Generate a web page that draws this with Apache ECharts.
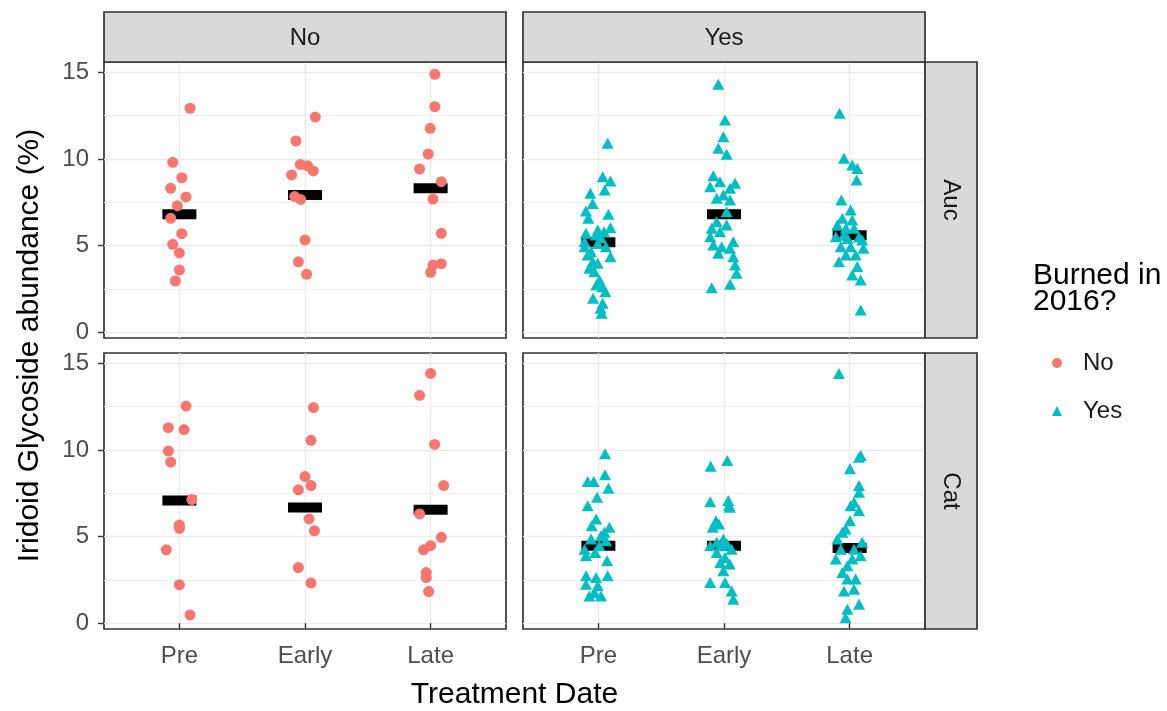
<!DOCTYPE html>
<html>
<head>
<meta charset="utf-8">
<script src="https://cdn.jsdelivr.net/npm/echarts@6/dist/echarts.min.js"></script>
<style>
html,body{margin:0;padding:0;background:#fff;}
#chart{width:1167px;height:711px;}
</style>
</head>
<body>
<div id="chart"></div>
<script>
// ---------- data ----------
const categories = ['Pre', 'Early', 'Late'];
const columnLabels = ['No', 'Yes'];
const rowLabels = ['Auc', 'Cat'];
const yTicks = [0, 5, 10, 15];
const yMinorTicks = [2.5, 7.5, 12.5];
const xTicks = [1, 2, 3];

// Auc, not burned
const aucNoPre = [12.93, 9.81, 8.92, 8.31, 7.81, 7.31, 6.58, 5.69, 5.08, 4.58, 3.59, 2.96];
const aucNoPreJit = [0.085, -0.053, 0.019, -0.069, 0.053, -0.016, -0.069, 0.019, -0.053, 0, 0, -0.032];
const aucNoEarly = [12.42, 11.04, 9.69, 9.61, 9.31, 9.08, 7.83, 7.67, 5.33, 4.07, 3.35];
const aucNoEarlyJit = [0.082, -0.072, -0.037, 0.021, 0.066, -0.107, -0.082, -0.035, 0, -0.053, 0.013];
const aucNoLate = [14.89, 13.02, 11.77, 10.29, 9.42, 8.69, 7.69, 5.71, 3.96, 3.88, 3.46];
const aucNoLateJit = [0.034, 0.034, -0.003, -0.019, -0.088, 0.085, 0.019, 0.085, 0.085, 0.019, 0];

// Auc, burned
const aucYesPre = [10.91, 8.98, 8.73, 8.21, 8.02, 7.44, 7.0, 6.81, 6.58, 6.04, 5.90, 5.71, 5.46, 5.80, 5.61, 5.23, 5.13, 4.94, 4.94, 4.65, 4.46, 4.36, 4.07, 3.98, 3.69, 3.50, 3.02, 2.73, 2.63, 2.34, 1.96, 1.67, 1.38, 1.10];
const aucYesPreJit = [0.074, 0.034, 0.096, 0.05, -0.064, -0.045, -0.099, 0.08, -0.08, 0.096, -0.005, -0.099, 0.021, 0.045, -0.02, -0.11, -0.005, -0.11, 0.06, -0.058, -0.085, 0.096, -0.045, -0.005, -0.072, -0.032, 0.008, -0.016, 0.034, 0.056, -0.042, 0.034, 0.018, 0.026];
const aucYesEarly = [14.31, 12.25, 11.29, 10.62, 10.27, 9.04, 8.69, 8.60, 8.40, 8.31, 7.92, 7.73, 7.63, 6.96, 6.38, 6.19, 6.00, 5.80, 5.52, 5.23, 5.04, 4.94, 4.85, 4.56, 4.36, 3.88, 3.40, 2.77, 2.57];
const aucYesEarlyJit = [-0.045, 0.008, -0.005, -0.045, 0.021, -0.085, -0.032, 0.088, -0.11, 0.048, -0.005, -0.058, 0.048, 0.021, -0.058, 0.021, -0.098, -0.032, -0.11, 0.074, -0.085, -0.018, 0.048, -0.045, 0.074, 0.088, 0.1, 0.048, -0.098];
const aucYesLate = [12.64, 10.04, 9.65, 9.46, 8.79, 7.63, 7.06, 6.58, 6.48, 6.19, 6.00, 6.00, 5.61, 5.52, 5.50, 5.42, 5.33, 4.94, 4.94, 4.85, 4.46, 4.46, 4.07, 3.79, 3.31, 3.02, 1.29];
const aucYesLateJit = [-0.08, -0.045, 0.021, 0.061, 0.056, -0.066, 0.008, -0.058, 0.021, -0.098, -0.03, 0.035, -0.045, -0.11, 0.075, -0.016, 0.1, -0.07, 0.008, 0.11, 0.048, -0.03, -0.085, 0.061, 0.021, 0.088, 0.088];

// Cat, not burned
const catNoPre = [12.54, 11.29, 11.18, 9.94, 9.30, 7.14, 5.67, 5.48, 4.24, 2.22, 0.48];
const catNoPreJit = [0.053, -0.088, 0.037, -0.088, -0.069, 0.099, 0, 0, -0.104, 0, 0.085];
const catNoEarly = [12.45, 10.56, 8.47, 7.95, 7.70, 6.02, 5.34, 3.22, 2.32];
const catNoEarlyJit = [0.067, 0.048, 0, 0.048, -0.053, 0.032, 0.075, -0.053, 0.048];
const catNoLate = [14.42, 13.16, 10.32, 7.95, 6.31, 4.96, 4.48, 4.24, 2.93, 2.64, 1.83];
const catNoLateJit = [0, -0.088, 0.032, 0.104, -0.088, 0.085, 0, -0.056, -0.035, -0.035, -0.016];

// Cat, burned
const catYesPre = [9.79, 8.57, 8.18, 8.18, 7.79, 7.27, 6.79, 6.02, 5.63, 5.54, 5.25, 5.05, 4.86, 4.77, 4.48, 4.28, 4.09, 3.90, 3.61, 2.74, 2.74, 2.64, 2.26, 2.16, 1.77, 1.58, 1.58];
const catYesPreJit = [0.053, 0.053, -0.085, -0.037, 0.08, -0.01, -0.085, -0.018, -0.053, 0.088, 0.048, 0.021, -0.058, 0.061, 0.008, -0.11, -0.026, -0.098, 0.069, 0.074, -0.098, -0.018, -0.098, -0.005, -0.032, -0.072, 0.021];
const catYesEarly = [9.40, 9.07, 7.08, 7.02, 6.80, 6.69, 5.92, 5.73, 5.54, 4.86, 4.67, 4.57, 4.48, 4.48, 4.28, 4.09, 3.80, 3.51, 3.42, 3.03, 2.35, 2.35, 1.87, 1.39];
const catYesEarlyJit = [0.026, -0.106, 0.034, -0.11, 0.04, 0.045, -0.064, -0.04, -0.09, -0.005, -0.058, 0.024, -0.11, -0.018, 0.061, -0.058, 0.008, -0.03, 0.045, -0.005, -0.11, 0.008, 0.061, 0.074];
const catYesLate = [14.42, 9.69, 9.59, 8.92, 7.95, 7.56, 6.98, 6.79, 6.50, 5.92, 5.44, 5.25, 4.86, 4.67, 4.28, 4.28, 3.90, 3.71, 3.71, 3.32, 2.93, 2.55, 2.55, 1.97, 1.87, 1.10, 0.81, 0.32];
const catYesLateJit = [-0.085, 0.088, 0.075, 0.003, 0.075, 0.075, 0.035, 0.008, 0.075, 0.003, -0.032, -0.058, -0.098, 0.1, 0.035, -0.07, 0.088, -0.11, 0.021, -0.018, -0.058, -0.018, 0.048, 0.035, -0.045, 0.075, -0.018, -0.032];

// means (black bars) per category
const meansAucNo = [6.81, 7.92, 8.31];
const meansAucYes = [5.19, 6.81, 5.60];
const meansCatNo = [7.08, 6.68, 6.56];
const meansCatYes = [4.48, 4.48, 4.34];

// ---------- layout / style ----------
const FONT = '"Liberation Sans", Arial, sans-serif';
const colLeft = [104, 523];
const panelW = 402;
const rowTop = [62, 353];
const panelH = 276;
const stripSize = 50;
const yMin = -0.33, yMax = 15.6;
const colors = ['#F8766D', '#00BFC4'];
const symbols = ['circle', 'triangle'];
const symbolSizes = [11, [12, 11]];
const tickFont = 24, titleFont = 30;

const panels = [
  { r: 0, c: 0, groups: [[aucNoPre, aucNoPreJit], [aucNoEarly, aucNoEarlyJit], [aucNoLate, aucNoLateJit]], means: meansAucNo },
  { r: 0, c: 1, groups: [[aucYesPre, aucYesPreJit], [aucYesEarly, aucYesEarlyJit], [aucYesLate, aucYesLateJit]], means: meansAucYes },
  { r: 1, c: 0, groups: [[catNoPre, catNoPreJit], [catNoEarly, catNoEarlyJit], [catNoLate, catNoLateJit]], means: meansCatNo },
  { r: 1, c: 1, groups: [[catYesPre, catYesPreJit], [catYesEarly, catYesEarlyJit], [catYesLate, catYesLateJit]], means: meansCatYes }
];

const grid = [], xAxis = [], yAxis = [], series = [];
panels.forEach((p, gi) => {
  grid.push({
    left: colLeft[p.c], top: rowTop[p.r], width: panelW, height: panelH,
    show: true, backgroundColor: '#ffffff', borderColor: '#333333', borderWidth: 1.7
  });
  xAxis.push({
    gridIndex: gi, type: 'value', min: 0.4, max: 3.6,
    axisLine: { show: false },
    axisTick: { show: p.r === 1, customValues: xTicks, length: 6, lineStyle: { color: '#333333', width: 1.4 } },
    axisLabel: {
      show: p.r === 1, customValues: xTicks, margin: 15,
      formatter: v => categories[Math.round(v) - 1],
      color: '#4D4D4D', fontSize: tickFont, fontFamily: FONT
    },
    splitLine: { show: true, lineStyle: { color: '#EBEBEB', width: 1.4 } }
  });
  const yi = yAxis.length;
  yAxis.push({
    gridIndex: gi, type: 'value', min: yMin, max: yMax, position: 'left',
    axisLine: { show: false },
    axisTick: { show: p.c === 0, customValues: yTicks, length: 6, lineStyle: { color: '#333333', width: 1.4 } },
    axisLabel: { show: p.c === 0, customValues: yTicks, margin: 15, color: '#4D4D4D', fontSize: tickFont, fontFamily: FONT },
    splitLine: { show: true, lineStyle: { color: '#EBEBEB', width: 1.4 } }
  });
  yAxis.push({
    gridIndex: gi, type: 'value', min: yMin, max: yMax, position: 'left',
    axisLine: { show: false },
    axisTick: { show: false, customValues: yMinorTicks },
    axisLabel: { show: false, customValues: yMinorTicks },
    splitLine: { show: true, lineStyle: { color: '#EFEFEF', width: 1 } }
  });
  // mean bars
  series.push({
    type: 'scatter', xAxisIndex: gi, yAxisIndex: yi, silent: true,
    symbol: 'rect', symbolSize: [34, 10], z: 2,
    itemStyle: { color: '#000000', opacity: 1 },
    data: p.means.map((m, i) => [i + 1, m])
  });
  // points
  const data = [];
  p.groups.forEach((g, i) => {
    g[0].forEach((v, j) => data.push([i + 1 + g[1][j], v]));
  });
  series.push({
    type: 'scatter', name: columnLabels[p.c], xAxisIndex: gi, yAxisIndex: yi, z: 3,
    symbol: symbols[p.c], symbolSize: symbolSizes[p.c],
    itemStyle: { color: colors[p.c], opacity: 1 },
    data: data
  });
});

// strips and titles
const graphic = [];
columnLabels.forEach((lab, c) => {
  graphic.push({
    type: 'rect', shape: { x: colLeft[c], y: rowTop[0] - stripSize, width: panelW, height: stripSize },
    style: { fill: '#D9D9D9', stroke: '#333333', lineWidth: 1.7 }, z: 10
  });
  graphic.push({
    type: 'text', x: colLeft[c] + panelW / 2, y: rowTop[0] - stripSize / 2 + 1, z: 11,
    style: { text: lab, textAlign: 'center', textVerticalAlign: 'middle', fontSize: tickFont, fontFamily: FONT, fill: '#1A1A1A' }
  });
});
rowLabels.forEach((lab, r) => {
  const sx = colLeft[1] + panelW;
  graphic.push({
    type: 'rect', shape: { x: sx, y: rowTop[r], width: stripSize + 2, height: panelH },
    style: { fill: '#D9D9D9', stroke: '#333333', lineWidth: 1.7 }, z: 10
  });
  graphic.push({
    type: 'text', x: sx + (stripSize + 2) / 2, y: rowTop[r] + panelH / 2, rotation: -Math.PI / 2, z: 11,
    style: { text: lab, textAlign: 'center', textVerticalAlign: 'middle', fontSize: tickFont, fontFamily: FONT, fill: '#1A1A1A' }
  });
});
graphic.push({
  type: 'text', x: (colLeft[0] + colLeft[1] + panelW) / 2, y: 695, z: 11,
  style: { text: 'Treatment Date', textAlign: 'center', textVerticalAlign: 'middle', fontSize: titleFont, fontFamily: FONT, fill: '#000000' }
});
graphic.push({
  type: 'text', x: 30, y: (rowTop[0] + rowTop[1] + panelH) / 2, rotation: Math.PI / 2, z: 11,
  style: { text: 'Iridoid Glycoside abundance (%)', textAlign: 'center', textVerticalAlign: 'middle', fontSize: titleFont, fontFamily: FONT, fill: '#000000' }
});

const chart = echarts.init(document.getElementById('chart'), null, { renderer: 'canvas' });
chart.setOption({
  backgroundColor: '#ffffff',
  animation: false,
  title: {
    text: 'Burned in\n2016?', left: 1028, top: 258,
    textStyle: { fontSize: titleFont, lineHeight: 26, fontWeight: 'normal', color: '#000000', fontFamily: FONT }
  },
  legend: {
    orient: 'vertical', left: 1047, top: 346, itemGap: 24,
    itemWidth: 10, itemHeight: 10,
    data: [{ name: 'No', icon: 'circle' }, { name: 'Yes', icon: 'triangle' }],
    textStyle: { fontSize: tickFont, color: '#1A1A1A', fontFamily: FONT, padding: [0, 0, 0, 16] }
  },
  grid: grid,
  xAxis: xAxis,
  yAxis: yAxis,
  series: series,
  graphic: graphic
});
</script>
</body>
</html>
